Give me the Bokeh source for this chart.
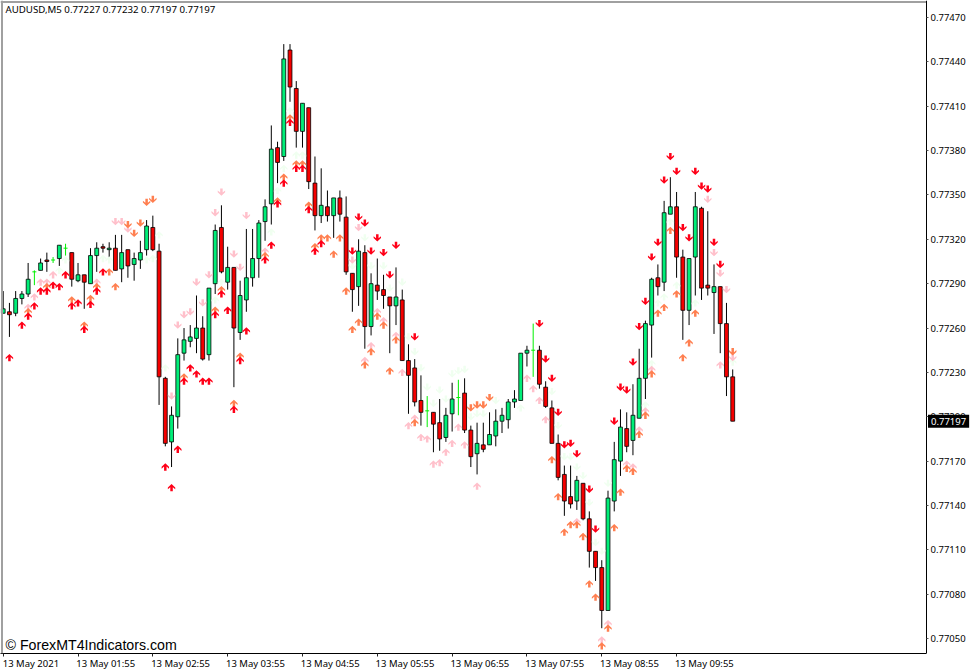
from bokeh.embed import file_html
from bokeh.resources import INLINE
from bokeh.plotting import figure
from bokeh.models import (Range1d, LinearAxis, FixedTicker, PrintfTickFormatter,
                          Label, Span, ColumnDataSource)

symbol_caption = "AUDUSD,M5  0.77227 0.77232 0.77197 0.77197"
watermark = "\u00a9 ForexMT4Indicators.com"
last_price = 0.77197

price_ticks = [0.77470, 0.77440, 0.77410, 0.77380, 0.77350, 0.77320, 0.77290, 0.77260,
               0.77230, 0.77200, 0.77170, 0.77140, 0.77110, 0.77080, 0.77050]
time_tick_bars = [0, 12, 24, 36, 48, 60, 72, 84, 96, 108]
time_tick_labels = ["13 May 2021", "13 May 01:55", "13 May 02:55", "13 May 03:55", "13 May 04:55",
                    "13 May 05:55", "13 May 06:55", "13 May 07:55", "13 May 08:55", "13 May 09:55"]

opens = [.77270,.77271,.77270,.77280,.77283,.77298,.77299,.77306,.77306,.77307,.77314,.77311,.77292,.77296,.77290,.77309,.77315,.77313,.77314,.77300,
         .77313,.77303,.77306,.77313,.77328,.77312,.77226,.77183,.77200,.77243,.77251,.77253,.77260,.77242,.77290,.77328,.77291,.77301,.77257,.77279,
         .77294,.77307,.77332,.77344,.77382,.77376,.77448,.77422,.77393,.77409,.77358,.77336,.77342,.77336,.77348,.77335,.77297,.77288,.77311,.77261,
         .77289,.77286,.77281,.77275,.77279,.77238,.77233,.77211,.77204,.77203,.77196,.77186,.77202,.77213,.77216,.77191,.77175,.77181,.77181,.77187,
         .77197,.77198,.77210,.77211,.77243,.77245,.77245,.77220,.77206,.77182,.77161,.77146,.77143,.77155,.77131,.77109,.77098,.77069,.77143,.77170,
         .77192,.77184,.77199,.77226,.77262,.77294,.77291,.77337,.77342,.77308,.77272,.77308,.77341,.77289,.77284,.77288,.77263,.77227]
highs = [.77285,.77277,.77285,.77285,.77304,.77299,.77307,.77311,.77308,.77316,.77317,.77311,.77304,.77296,.77314,.77318,.77317,.77318,.77323,.77323,
         .77313,.77311,.77319,.77333,.77336,.77317,.77227,.77207,.77253,.77260,.77262,.77282,.77268,.77287,.77330,.77343,.77315,.77301,.77292,.77327,
         .77327,.77333,.77347,.77397,.77386,.77452,.77452,.77427,.77412,.77409,.77376,.77368,.77353,.77348,.77353,.77349,.77297,.77320,.77316,.77297,
         .77307,.77296,.77281,.77301,.77286,.77249,.77239,.77228,.77214,.77203,.77212,.77206,.77223,.77225,.77226,.77194,.77196,.77196,.77203,.77205,
         .77206,.77212,.77218,.77243,.77248,.77263,.77248,.77224,.77211,.77188,.77167,.77167,.77160,.77155,.77136,.77109,.77103,.77150,.77183,.77205,
         .77203,.77222,.77246,.77265,.77294,.77303,.77346,.77362,.77352,.77313,.77307,.77352,.77342,.77339,.77303,.77288,.77277,.77232]
lows = [.77270,.77254,.77268,.77276,.77281,.77289,.77299,.77298,.77304,.77302,.77309,.77288,.77291,.77273,.77290,.77298,.77311,.77306,.77299,.77291,
        .77294,.77292,.77300,.77309,.77312,.77208,.77180,.77166,.77192,.77238,.77247,.77243,.77238,.77238,.77283,.77297,.77286,.77220,.77252,.77271,
        .77288,.77294,.77319,.77330,.77358,.77373,.77413,.77382,.77382,.77354,.77326,.77331,.77332,.77321,.77332,.77296,.77271,.77275,.77246,.77255,
        .77279,.77273,.77243,.77262,.77238,.77202,.77207,.77194,.77193,.77176,.77177,.77183,.77190,.77201,.77189,.77166,.77161,.77176,.77181,.77180,
        .77189,.77192,.77206,.77211,.77234,.77227,.77219,.77206,.77182,.77157,.77133,.77138,.77137,.77130,.77098,.77089,.77057,.77069,.77136,.77160,
        .77176,.77174,.77199,.77212,.77240,.77282,.77285,.77337,.77294,.77252,.77262,.77282,.77279,.77282,.77256,.77243,.77214,.77197]
closes = [.77273,.77269,.77280,.77283,.77293,.77298,.77304,.77305,.77306,.77316,.77314,.77293,.77296,.77291,.77309,.77314,.77314,.77314,.77299,.77311,
          .77302,.77307,.77311,.77329,.77313,.77227,.77182,.77201,.77242,.77252,.77254,.77260,.77239,.77287,.77326,.77298,.77301,.77260,.77282,.77294,
          .77307,.77331,.77342,.77381,.77372,.77442,.77423,.77393,.77412,.77359,.77336,.77343,.77336,.77348,.77337,.77298,.77286,.77312,.77261,.77290,
          .77285,.77282,.77275,.77281,.77238,.77228,.77210,.77203,.77204,.77195,.77185,.77201,.77212,.77213,.77191,.77173,.77182,.77178,.77188,.77197,
          .77201,.77210,.77212,.77243,.77245,.77245,.77222,.77207,.77182,.77159,.77143,.77141,.77157,.77131,.77109,.77098,.77069,.77145,.77171,.77193,
          .77180,.77201,.77226,.77263,.77293,.77288,.77338,.77342,.77308,.77272,.77307,.77342,.77287,.77287,.77288,.77263,.77227,.77197]

up_red_bar = [1,3,4,5,6,7,8,9,10,11,12,13,14,15,16,26,27,28,29,30,31,32,33,34,35,36,37,38,39,42,43,44,45,46,47,48,49,50,51]
up_red_price = [.77240,.77262,.77268,.77275,.77285,.77285,.77289,.77288,.77296,.77275,.77277,.77259,.77276,.77285,.77298,.77166,.77152,.77178,.77224,.77233,
                .77229,.77224,.77224,.77269,.77283,.77272,.77205,.77238,.77258,.77306,.77316,.77344,.77358,.77399,.77368,.77368,.77340,.77312,.77317]
up_orange_bar = [4,7,11,13,14,15,17,18,29,34,35,37,38,42,44,45,46,47,48,49,50,51,52,53,54,55,56,57,58,59,60,61,62,63,66,88,89,90,91,92,93,94,95,96,97,98,99,100,101,102,103,104,105,106,107,108,109,110,111]
up_orange_price = [.77271,.77288,.77279,.77262,.77280,.77288,.77298,.77288,.77227,.77272,.77286,.77209,.77241,.77309,.77346,.77362,.77402,.77371,.77371,.77343,
                   .77315,.77321,.77321,.77310,.77321,.77285,.77259,.77264,.77235,.77244,.77268,.77262,.77231,.77252,.77196,.77171,.77146,.77122,.77127,.77127,
                   .77119,.77087,.77078,.77045,.77057,.77125,.77149,.77165,.77163,.77188,.77201,.77229,.77270,.77274,.77326,.77283,.77240,.77250,.77270]
up_pink_bar = [4,5,6,7,8,15,42,58,59,60,61,63,64,65,66,67,68,69,70,71,72,73,74,76,84,85,86,87,92,96,97,100,101,102,103,104,115]
up_pink_price = [.77274,.77281,.77291,.77291,.77296,.77291,.77312,.77238,.77248,.77271,.77265,.77255,.77230,.77194,.77199,.77186,.77185,.77168,.77169,.77176,
                 .77182,.77193,.77181,.77153,.77226,.77219,.77211,.77198,.77129,.77049,.77060,.77168,.77166,.77191,.77204,.77232,.77235]
up_pale_bar = [9,10,16,17,23,24,25,26,34,35,43,44,45,46,47,48,83,103,104,105,106,107,108,111,117]
up_pale_price = [.77299,.77306,.77307,.77306,.77306,.77307,.77323,.77233,.77279,.77291,.77325,.77353,.77368,.77407,.77377,.77377,.77206,.77208,.77236,.77277,
                 .77281,.77332,.77289,.77277,.77237]

down_red_bar = [56,57,58,59,60,61,62,63,66,86,87,88,89,90,91,92,94,95,98,99,100,101,102,103,104,105,106,107,108,109,110,111,112,113,114,115]
down_red_price = [.77312,.77335,.77331,.77312,.77321,.77311,.77296,.77316,.77254,.77263,.77239,.77226,.77203,.77181,.77182,.77175,.77151,.77124,.77197,.77220,
                  .77218,.77237,.77261,.77278,.77308,.77318,.77360,.77376,.77366,.77328,.77321,.77366,.77356,.77354,.77318,.77303]
down_orange_bar = [20,21,22,23,24,75,76,77,78,117]
down_orange_price = [.77330,.77324,.77331,.77345,.77347,.77206,.77208,.77208,.77213,.77244]
down_pink_bar = [18,19,20,27,28,29,30,31,32,33,34,35,37,38,39,56,57,113,114,115,116,117]
down_pink_price = [.77332,.77332,.77327,.77214,.77262,.77269,.77271,.77291,.77277,.77296,.77338,.77352,.77310,.77301,.77336,.77306,.77328,.77347,.77311,.77297,
                   .77286,.77240]
down_pale_bar = [56,58,59,61,62,64,65,66,67,68,69,70,71,72,73,74,75,76,77,79,88,89,90,91,92,93,94,95,96,97]
down_pale_price = [.77302,.77321,.77302,.77302,.77287,.77291,.77254,.77244,.77233,.77220,.77209,.77218,.77212,.77229,.77231,.77232,.77200,.77202,.77202,.77211,
                   .77217,.77194,.77173,.77173,.77166,.77160,.77142,.77115,.77109,.77155]

GREEN, RED, DOJI = "#00ee78", "#f40000", "#00f000"
ARROW_RED, ARROW_ORANGE, ARROW_PINK, ARROW_PALE = "#ff0018", "#ff7f50", "#ffc0cb", "#f0fff0"

W, H, BOTTOM = 977, 672, 19
AXIS_BAR = 148.08
x_range = Range1d(-0.433, 156.26)
y_range = Range1d(0.770399, 0.774815)
bar_per_px = (x_range.end - x_range.start) / W
price_per_px = (y_range.end - y_range.start) / (H - BOTTOM)

p = figure(width=W, height=H, x_range=x_range, y_range=y_range, output_backend="svg",
           toolbar_location=None, x_axis_location=None, y_axis_location=None,
           min_border_left=0, min_border_top=0, min_border_right=0, min_border_bottom=BOTTOM,
           background_fill_color="white", border_fill_color="white")
p.grid.visible = False
p.outline_line_color = None

price_axis = LinearAxis(ticker=FixedTicker(ticks=price_ticks, minor_ticks=[]),
                        formatter=PrintfTickFormatter(format="%.5f"), fixed_location=AXIS_BAR,
                        axis_line_color="black", major_tick_line_color="#555555",
                        major_tick_in=0, major_tick_out=2, major_label_standoff=2,
                        major_label_text_font="Noto Sans", major_label_text_font_size="9.5px",
                        major_label_text_color="black")
p.add_layout(price_axis, "right")

tick_axis = LinearAxis(ticker=FixedTicker(ticks=time_tick_bars, minor_ticks=[]),
                       bounds=(x_range.start, AXIS_BAR),
                       axis_line_color="black", major_tick_line_color="#222222",
                       major_tick_in=0, major_tick_out=3, major_label_standoff=0,
                       major_label_overrides={b: "" for b in time_tick_bars},
                       major_label_text_font_size="0px")
p.add_layout(tick_axis, "below")

label_shift = 4.45
label_pos = [b + label_shift for b in time_tick_bars]
time_axis = LinearAxis(ticker=FixedTicker(ticks=label_pos, minor_ticks=[]),
                       axis_line_color=None, major_tick_line_color=None,
                       major_tick_in=0, major_tick_out=0, major_label_standoff=0,
                       major_label_overrides=dict(zip(label_pos, time_tick_labels)),
                       major_label_text_font="Noto Sans", major_label_text_font_size="9.5px",
                       major_label_text_color="black")
p.add_layout(time_axis, "below")

p.add_layout(Span(location=1.5, dimension="height", location_units="screen",
                  line_color="#a0a0a0", line_width=2))
p.segment([x_range.start], [y_range.end - 1.5 * price_per_px], [AXIS_BAR], [y_range.end - 1.5 * price_per_px],
          line_color="#a0a0a0", line_width=2)

rows = list(zip(range(len(opens)), opens, highs, lows, closes))
body_rows = [r for r in rows if r[1] != r[4]]
doji_rows = [r for r in rows if r[1] == r[4]]

src = ColumnDataSource(dict(
    x=[r[0] for r in body_rows], low=[r[3] for r in body_rows], high=[r[2] for r in body_rows],
    top=[max(r[1], r[4]) for r in body_rows], bottom=[min(r[1], r[4]) for r in body_rows],
    color=[GREEN if r[4] > r[1] else RED for r in body_rows]))
p.segment("x", "low", "x", "high", source=src, line_color="black", line_width=1)
p.vbar(x="x", top="top", bottom="bottom", width=0.62, source=src, fill_color="color",
       line_color="black", line_width=0.8)

dsrc = ColumnDataSource(dict(
    x=[r[0] for r in doji_rows], x0=[r[0] - 0.32 for r in doji_rows], x1=[r[0] + 0.32 for r in doji_rows],
    low=[r[3] for r in doji_rows], high=[r[2] for r in doji_rows], mid=[r[1] for r in doji_rows]))
p.segment("x", "low", "x", "high", source=dsrc, line_color=DOJI, line_width=1)
p.segment("x0", "mid", "x1", "mid", source=dsrc, line_color=DOJI, line_width=1)

ARROW_DX = [0, 3.7, 3.7, 1.25, 1.25, -1.25, -1.25, -3.7, -3.7]
ARROW_DY = [3.7, 0.2, -1.6, 0.5, -3.6, -3.6, 0.5, -1.6, 0.2]

def arrows(bars, prices, color, direction):
    xs = [[b + dx * bar_per_px for dx in ARROW_DX] for b in bars]
    ys = [[v + direction * dy * price_per_px for dy in ARROW_DY] for v in prices]
    p.patches(xs, ys, fill_color=color, line_color=None)

arrows(up_pale_bar, up_pale_price, ARROW_PALE, 1)
arrows(down_pale_bar, down_pale_price, ARROW_PALE, -1)
arrows(up_pink_bar, up_pink_price, ARROW_PINK, 1)
arrows(down_pink_bar, down_pink_price, ARROW_PINK, -1)
arrows(up_orange_bar, up_orange_price, ARROW_ORANGE, 1)
arrows(down_orange_bar, down_orange_price, ARROW_ORANGE, -1)
arrows(up_red_bar, up_red_price, ARROW_RED, 1)
arrows(down_red_bar, down_red_price, ARROW_RED, -1)

p.add_layout(Label(x=5, y=H - BOTTOM - 9, x_units="screen", y_units="screen", text=symbol_caption,
                   text_font="Noto Sans", text_font_size="9.7px", text_color="black",
                   text_baseline="middle"))
p.add_layout(Label(x=5, y=9, x_units="screen", y_units="screen", text=watermark,
                   text_font="Liberation Sans", text_font_size="14.2px", text_color="black",
                   text_baseline="middle"))
p.add_layout(Label(x=AXIS_BAR, y=last_price, x_offset=1.5, text=f"{last_price:.5f}",
                   text_font="Noto Sans", text_font_size="9.5px", text_color="white",
                   text_baseline="middle", background_fill_color="black", padding=3))

open("out.html", "w").write(file_html(p, INLINE))
